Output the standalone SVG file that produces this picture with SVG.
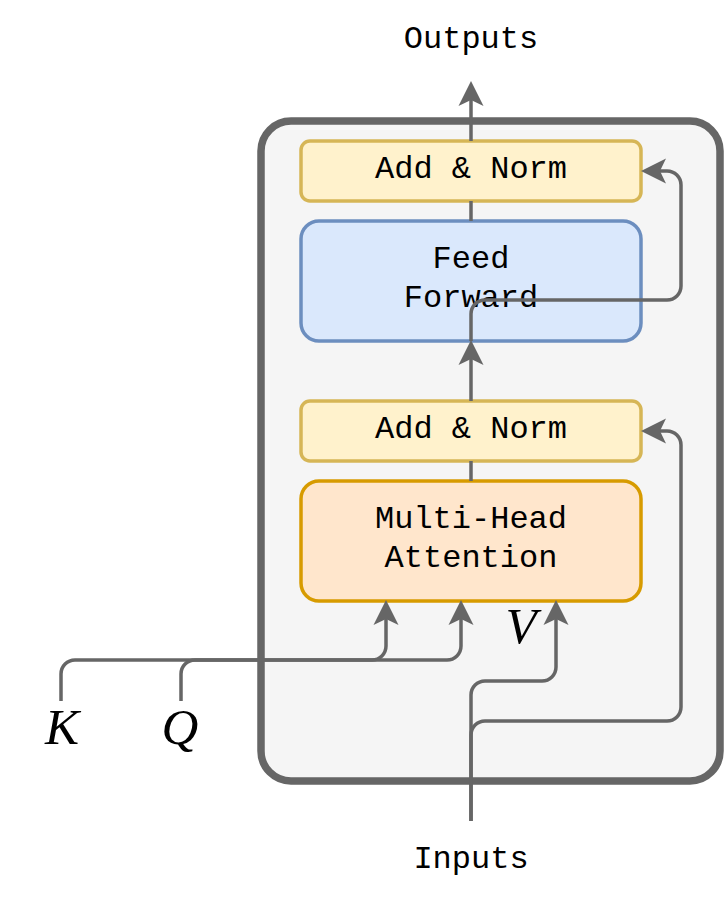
<svg xmlns="http://www.w3.org/2000/svg" width="724" height="900" viewBox="0 0 724 900">
  <defs>
    <marker id="arrow" markerUnits="userSpaceOnUse" markerWidth="26" markerHeight="26" refX="6" refY="12" orient="auto" overflow="visible">
      <path d="M25,12 L0,-0.5 L6,12 L0,24.5 Z" fill="#666666" stroke="none"/>
    </marker>
    <style>
      .box { stroke-width: 3.5; }
      .an { fill: #fff2cc; stroke: #d6b656; }
      .ff { fill: #dae8fc; stroke: #6c8ebf; }
      .mha { fill: #ffe6cc; stroke: #d79b00; }
      .lbl { font-family: "Liberation Mono", "Courier New", monospace; font-size: 32px; fill: #000000; text-anchor: middle; }
      .math { font-family: "Liberation Serif", "Times New Roman", serif; font-style: italic; font-size: 51px; fill: #000000; text-anchor: middle; }
      .edge { fill: none; stroke: #666666; stroke-width: 3.5; }
      .arr { marker-end: url(#arrow); }
    </style>
  </defs>
  <rect width="724" height="900" fill="#ffffff"/>

  <g id="container">
    <rect x="261" y="121" width="459" height="660" rx="30" ry="30" fill="#f5f5f5" stroke="#666666" stroke-width="7.5"/>
  </g>

  <g id="add-norm-top">
    <rect class="box an" x="301" y="141" width="340" height="60" rx="9"/>
    <text class="lbl" x="471" y="178">Add &amp; Norm</text>
  </g>
  <g id="feed-forward">
    <rect class="box ff" x="301" y="221" width="340" height="120" rx="18"/>
    <text class="lbl" x="471" y="268">Feed</text>
    <text class="lbl" x="471" y="307">Forward</text>
  </g>
  <g id="add-norm-bottom">
    <rect class="box an" x="301" y="401" width="340" height="60" rx="9"/>
    <text class="lbl" x="471" y="438">Add &amp; Norm</text>
  </g>
  <g id="multi-head-attention">
    <rect class="box mha" x="301" y="481" width="340" height="120" rx="18"/>
    <text class="lbl" x="471" y="528">Multi-Head</text>
    <text class="lbl" x="471" y="567">Attention</text>
  </g>

  <g id="outputs"><text class="lbl" x="471" y="48">Outputs</text></g>
  <g id="inputs"><text class="lbl" x="471" y="868">Inputs</text></g>
  <g id="K"><text class="math" x="62" y="744">K</text></g>
  <g id="Q"><text class="math" x="180" y="744">Q</text></g>
  <g id="V"><text class="math" x="521" y="643">V</text></g>

  <g id="connectors">
    <path class="edge arr" d="M471,141 V100"/>
    <path class="edge" d="M471,221 V201"/>
    <path class="edge arr" d="M471,401 V359"/>
    <path class="edge arr" d="M471,341 V314 A14,14 0 0 1 485,300 H667 A14,14 0 0 0 681,286 V185 A14,14 0 0 0 667,171 H660"/>
    <path class="edge" d="M471,481 V461"/>
    <path class="edge arr" d="M471,821 V695 A14,14 0 0 1 485,681 H542 A14,14 0 0 0 556,667 V619"/>
    <path class="edge arr" d="M471,821 V735 A14,14 0 0 1 485,721 H667 A14,14 0 0 0 681,707 V445 A14,14 0 0 0 667,431 H660"/>
    <path class="edge arr" d="M61,701 V674 A14,14 0 0 1 75,660 H372 A14,14 0 0 0 386,646 V619"/>
    <path class="edge arr" d="M181,701 V674 A14,14 0 0 1 195,660 H447 A14,14 0 0 0 461,646 V619"/>
  </g>
</svg>
